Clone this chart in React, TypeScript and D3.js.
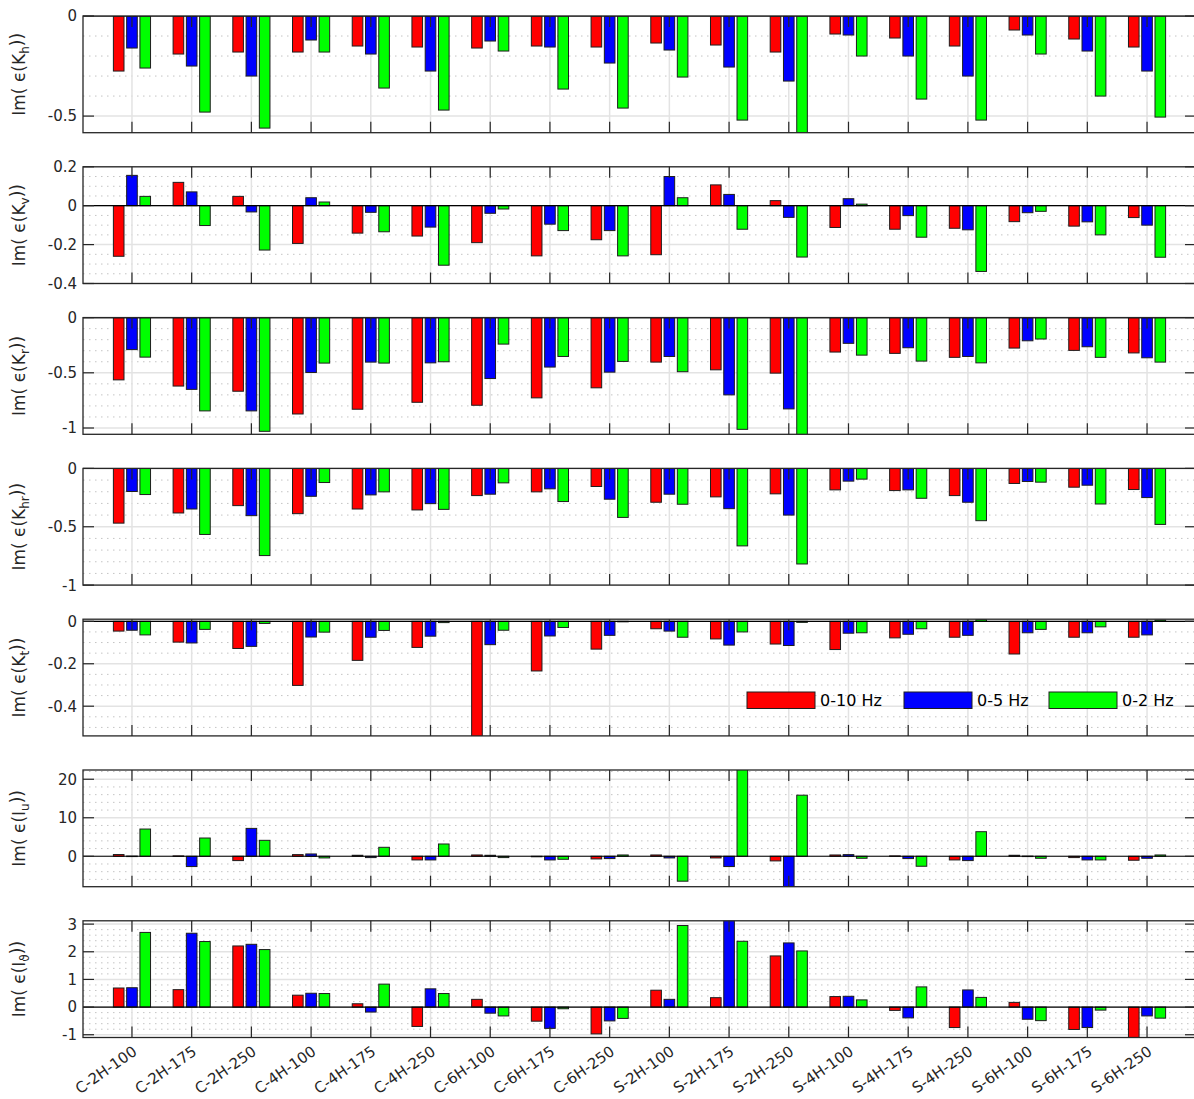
import React from 'react'
import * as d3 from 'd3'

// categories along x
const categories = ['C-2H-100', 'C-2H-175', 'C-2H-250', 'C-4H-100', 'C-4H-175', 'C-4H-250',
  'C-6H-100', 'C-6H-175', 'C-6H-250', 'S-2H-100', 'S-2H-175', 'S-2H-250',
  'S-4H-100', 'S-4H-175', 'S-4H-250', 'S-6H-100', 'S-6H-175', 'S-6H-250']
const seriesNames = ['0-10 Hz', '0-5 Hz', '0-2 Hz']
const seriesColors = ['#ff0000', '#0000ff', '#00ff00']

// Im(eps(Kh))
const kh10 = [-0.275, -0.19, -0.18, -0.18, -0.15, -0.155, -0.16, -0.15, -0.155, -0.135, -0.145, -0.18, -0.09, -0.11, -0.15, -0.07, -0.115, -0.155]
const kh5 = [-0.16, -0.25, -0.30, -0.12, -0.19, -0.275, -0.125, -0.155, -0.235, -0.17, -0.255, -0.325, -0.095, -0.20, -0.30, -0.095, -0.175, -0.275]
const kh2 = [-0.26, -0.48, -0.56, -0.18, -0.36, -0.47, -0.175, -0.365, -0.46, -0.305, -0.52, -0.62, -0.20, -0.415, -0.52, -0.19, -0.40, -0.505]
// Im(eps(Kv))
const kv10 = [-0.26, 0.12, 0.048, -0.194, -0.141, -0.156, -0.19, -0.258, -0.175, -0.252, 0.107, 0.026, -0.112, -0.121, -0.116, -0.082, -0.105, -0.061]
const kv5 = [0.156, 0.071, -0.032, 0.041, -0.034, -0.11, -0.039, -0.095, -0.128, 0.15, 0.058, -0.06, 0.036, -0.051, -0.124, -0.036, -0.083, -0.1]
const kv2 = [0.048, -0.102, -0.228, 0.019, -0.134, -0.306, -0.017, -0.128, -0.258, 0.041, -0.121, -0.264, 0.008, -0.162, -0.338, -0.029, -0.15, -0.265]
// Im(eps(Kr))
const kr10 = [-0.564, -0.62, -0.667, -0.873, -0.83, -0.767, -0.794, -0.727, -0.636, -0.403, -0.473, -0.503, -0.312, -0.324, -0.36, -0.276, -0.297, -0.32]
const kr5 = [-0.29, -0.65, -0.845, -0.497, -0.403, -0.41, -0.552, -0.448, -0.494, -0.352, -0.7, -0.827, -0.233, -0.273, -0.352, -0.21, -0.264, -0.364]
const kr2 = [-0.358, -0.845, -1.03, -0.412, -0.412, -0.4, -0.24, -0.352, -0.397, -0.49, -1.012, -1.1, -0.34, -0.394, -0.41, -0.194, -0.36, -0.403]
// Im(eps(Khr))
const khr10 = [-0.469, -0.382, -0.319, -0.388, -0.348, -0.356, -0.233, -0.201, -0.155, -0.29, -0.244, -0.218, -0.184, -0.19, -0.233, -0.129, -0.161, -0.181]
const khr5 = [-0.198, -0.348, -0.405, -0.239, -0.227, -0.302, -0.221, -0.175, -0.264, -0.221, -0.345, -0.4, -0.109, -0.184, -0.29, -0.112, -0.144, -0.25]
const khr2 = [-0.224, -0.566, -0.747, -0.121, -0.201, -0.351, -0.124, -0.284, -0.42, -0.307, -0.664, -0.819, -0.092, -0.256, -0.448, -0.118, -0.305, -0.48]
// Im(eps(Kt))
const kt10 = [-0.046, -0.098, -0.128, -0.302, -0.184, -0.123, -0.56, -0.234, -0.131, -0.035, -0.083, -0.107, -0.133, -0.078, -0.075, -0.154, -0.075, -0.075]
const kt5 = [-0.042, -0.102, -0.118, -0.074, -0.075, -0.07, -0.11, -0.069, -0.066, -0.046, -0.112, -0.114, -0.056, -0.061, -0.066, -0.054, -0.054, -0.064]
const kt2 = [-0.064, -0.038, -0.01, -0.051, -0.043, -0.006, -0.042, -0.029, -0.002, -0.075, -0.05, -0.005, -0.054, -0.035, 0.008, -0.038, -0.026, 0.006]
// Im(eps(Iu))
const iu10 = [0.45, 0.1, -1.12, 0.43, 0.26, -0.95, 0.34, -0.1, -0.69, 0.34, -0.43, -1.2, 0.34, 0.1, -0.95, 0.26, -0.34, -1.03]
const iu5 = [0.05, -2.67, 7.24, 0.6, -0.34, -0.95, 0.26, -0.95, -0.6, -0.43, -2.67, -8.5, 0.43, -0.6, -1.12, 0.05, -0.95, -0.52]
const iu2 = [7.07, 4.74, 4.14, -0.43, 2.33, 3.19, -0.34, -0.78, 0.34, -6.47, 23, 15.86, -0.52, -2.59, 6.38, -0.52, -0.95, 0.34]
// Im(eps(I theta))
const ith10 = [0.69, 0.63, 2.21, 0.43, 0.12, -0.7, 0.28, -0.51, -0.97, 0.61, 0.34, 1.85, 0.38, -0.12, -0.74, 0.17, -0.81, -1.2]
const ith5 = [0.70, 2.67, 2.27, 0.5, -0.18, 0.66, -0.22, -0.77, -0.5, 0.28, 3.2, 2.32, 0.39, -0.39, 0.62, -0.44, -0.74, -0.32]
const ith2 = [2.70, 2.37, 2.08, 0.49, 0.83, 0.49, -0.32, -0.06, -0.41, 2.95, 2.38, 2.03, 0.26, 0.73, 0.35, -0.49, -0.11, -0.4]

// axis limits / ticks per panel
const khTicks = [0, -0.5]
const kvTicks = [0.2, 0, -0.2, -0.4]
const krTicks = [0, -0.5, -1]
const khrTicks = [0, -0.5, -1]
const ktTicks = [0, -0.2, -0.4]
const iuTicks = [20, 10, 0]
const ithTicks = [3, 2, 1, 0, -1]

const panels = [
  { sub: 'h', series: [kh10, kh5, kh2], domain: [-0.583, 0], ticks: khTicks, minor: 0.1 },
  { sub: 'v', series: [kv10, kv5, kv2], domain: [-0.4, 0.2], ticks: kvTicks, minor: 0.05 },
  { sub: 'r', series: [kr10, kr5, kr2], domain: [-1.057, 0], ticks: krTicks, minor: 0.1 },
  { sub: 'hr', series: [khr10, khr5, khr2], domain: [-1, 0], ticks: khrTicks, minor: 0.1 },
  { sub: 't', series: [kt10, kt5, kt2], domain: [-0.54, 0.01], ticks: ktTicks, minor: 0.05, legend: true },
  { sub: 'u', letter: 'I', series: [iu10, iu5, iu2], domain: [-7.9, 22.4], ticks: iuTicks, minor: 2 },
  { sub: 'ϑ', letter: 'I', series: [ith10, ith5, ith2], domain: [-1.1, 3.12], ticks: ithTicks, minor: 0.2 },
]

const W = 1194
const H = 1099
const left = 83
const right = 1196
const top0 = 16
const step = 150.8
const ph = 116.7
const tickLen = 11
const font = 'DejaVu Sans, sans-serif'

const x = d3.scaleLinear().domain([0.18, categories.length + 0.82]).range([left, right])
const groupW = 2 / 3
const slot = groupW / 3
const barW = slot * 0.8

const Panel = ({ p, idx }) => {
  const y0 = top0 + idx * step
  const y = d3.scaleLinear().domain(p.domain).range([y0 + ph, y0])
  const minorTicks = d3.range(Math.ceil(p.domain[0] / p.minor - 1e-6), Math.floor(p.domain[1] / p.minor + 1e-6) + 1)
    .map(k => k * p.minor)
    .filter(v => !p.ticks.some(t => Math.abs(t - v) < 1e-6))
  const clipId = 'clip' + idx
  const cy = y0 + ph / 2
  return (
    <g>
      <defs>
        <clipPath id={clipId}><rect x={left} y={y0} width={right - left} height={ph} /></clipPath>
      </defs>
      <rect x={left} y={y0} width={right - left} height={ph} fill="#fff" />
      {/* grid */}
      {minorTicks.map((v, i) => (
        <line key={'mn' + i} x1={left} x2={right} y1={y(v)} y2={y(v)} stroke="#c4c4c4" strokeWidth={1} strokeDasharray="1.5,4.5" />
      ))}
      {p.ticks.map((v, i) => (
        <line key={'mj' + i} x1={left} x2={right} y1={y(v)} y2={y(v)} stroke="#e3e3e3" strokeWidth={1.5} />
      ))}
      {categories.map((c, i) => (
        <line key={'vg' + i} x1={x(i + 1)} x2={x(i + 1)} y1={y0} y2={y0 + ph} stroke="#e3e3e3" strokeWidth={1.5} />
      ))}
      {/* bars */}
      <g clipPath={`url(#${clipId})`}>
        {p.series.map((vals, s) => vals.map((v, i) => {
          const cx = i + 1 + (s - 1) * slot
          const ya = y(Math.max(0, v)), yb = y(Math.min(0, v))
          return (
            <rect key={s + '-' + i} x={x(cx - barW / 2)} y={ya} width={x(barW) - x(0)} height={Math.max(0.5, yb - ya)}
              fill={seriesColors[s]} stroke="#1e1e1e" strokeWidth={1} />
          )
        }))}
        <line x1={left} x2={right} y1={y(0)} y2={y(0)} stroke="#000" strokeWidth={1.2} />
      </g>
      {/* ticks, box */}
      {categories.map((c, i) => (
        <g key={'xt' + i}>
          <line x1={x(i + 1)} x2={x(i + 1)} y1={y0} y2={y0 + tickLen} stroke="#262626" strokeWidth={1.2} />
          <line x1={x(i + 1)} x2={x(i + 1)} y1={y0 + ph} y2={y0 + ph - tickLen} stroke="#262626" strokeWidth={1.2} />
        </g>
      ))}
      {p.ticks.map((v, i) => (
        <g key={'yt' + i}>
          <line x1={left} x2={left + tickLen} y1={y(v)} y2={y(v)} stroke="#262626" strokeWidth={1.2} />
          <line x1={right} x2={right - tickLen} y1={y(v)} y2={y(v)} stroke="#262626" strokeWidth={1.2} />
          <text x={left - 6} y={y(v)} dy="0.36em" textAnchor="end" fontSize={15} fontFamily={font} fill="#262626">{String(v)}</text>
        </g>
      ))}
      <rect x={left} y={y0} width={right - left} height={ph} fill="none" stroke="#262626" strokeWidth={1.3} />
      {/* y label */}
      <text transform={`translate(25,${cy}) rotate(-90)`} textAnchor="middle" fontSize={17} fontFamily={font} fill="#262626">
        Im( ϵ({p.letter || 'K'}<tspan dy="0.35em" fontSize={12}>{p.sub}</tspan><tspan dy="-0.35em">))</tspan>
      </text>
      {p.legend && (
        <g>
          {seriesNames.map((n, s) => {
            const lx = [747, 904, 1049][s]
            return (
              <g key={n}>
                <rect x={lx} y={692} width={68} height={16.5} fill={seriesColors[s]} stroke="#1e1e1e" strokeWidth={1} />
                <text x={lx + 73} y={700} dy="0.36em" fontSize={16} fontFamily={font} fill="#000">{n}</text>
              </g>
            )
          })}
        </g>
      )}
    </g>
  )
}

const App = () => {
  const bottom = top0 + (panels.length - 1) * step + ph
  return (
    <svg width={W} height={H} style={{ position: 'absolute', left: 0, top: 0, background: '#fff' }}>
      <rect x={0} y={0} width={W} height={H} fill="#fff" />
      {panels.map((p, i) => <Panel key={i} p={p} idx={i} />)}
      {categories.map((c, i) => (
        <text key={c} transform={`translate(${x(i + 1) + 3},${bottom + 12}) rotate(-35)`} textAnchor="end" dy="0.35em"
          fontSize={15} fontFamily={font} fill="#262626">{c}</text>
      ))}
    </svg>
  )
}

export default App
